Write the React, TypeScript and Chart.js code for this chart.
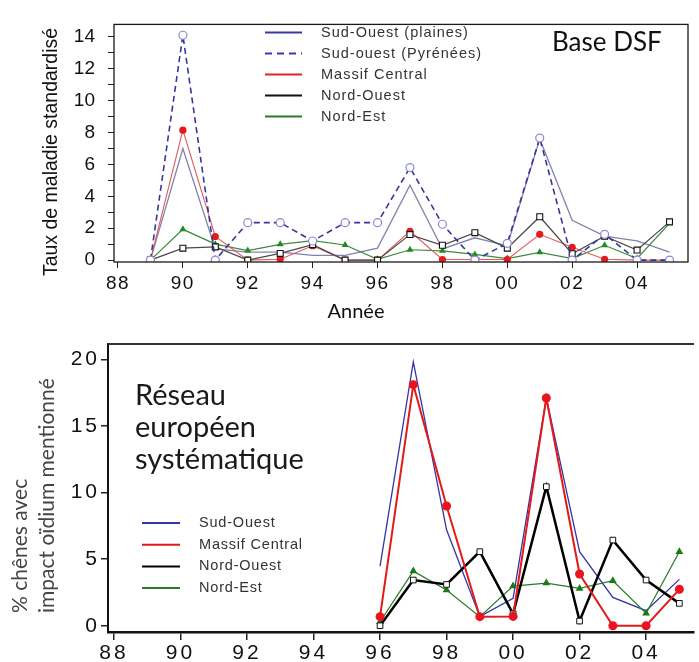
import React, { useEffect, useRef } from 'react';
import { Chart, registerables } from 'chart.js';

Chart.register(...registerables);

// ---------- Top panel: Base DSF ----------
const TOP_YEARS = [89, 90, 91, 92, 93, 94, 95, 96, 97, 98, 99, 100, 101, 102, 103, 104, 105];
const TOP_SO_PLAINES = [0, 7.0, 0.7, 0.5, 0.5, 0.3, 0.3, 0.75, 4.7, 0.7, 1.4, 0.9, 7.6, 2.5, 1.5, 1.2, 0.5];
const TOP_SO_PYRENEES = [0, 14.1, 0, 2.35, 2.35, 1.2, 2.35, 2.35, 5.8, 2.25, 0, 1.05, 7.65, 0, 1.62, 0, 0];
const TOP_MASSIF = [0, 8.15, 1.48, 0, 0.05, 0.9, 0, 0, 1.81, 0.04, 0.04, 0.04, 1.62, 0.8, 0.05, 0, 0];
const TOP_NORD_OUEST = [0, 0.75, 0.83, 0, 0.42, 0.97, 0, 0, 1.6, 0.93, 1.72, 0.75, 2.72, 0.4, 1.5, 0.63, 2.4];
const TOP_NORD_EST = [0, 1.93, 1.0, 0.6, 0.99, 1.22, 0.95, 0.05, 0.65, 0.58, 0.36, 0.1, 0.49, 0.1, 0.93, 0.1, 2.3];
const TOP_LABELS = ['Sud-Ouest (plaines)', 'Sud-ouest (Pyrénées)', 'Massif Central', 'Nord-Ouest', 'Nord-Est'];
const TOP_X_TICKS = [88, 90, 92, 94, 96, 98, 100, 102, 104];
const TOP_Y_TICKS = [0, 1, 2, 3, 4, 5, 6, 7, 8, 9, 10, 11, 12, 13, 14];
const TOP_Y_TITLE = 'Taux de maladie standardisé';
const TOP_X_TITLE = 'Année';
const TOP_NOTE = 'Base DSF';

// ---------- Bottom panel: Réseau européen systématique ----------
const BOT_YEARS = [96, 97, 98, 99, 100, 101, 102, 103, 104, 105];
const BOT_SUD_OUEST = [4.48, 19.8, 7.2, 0.68, 2.05, 17.1, 5.56, 2.13, 1.13, 3.48];
const BOT_MASSIF = [0.68, 18.1, 8.99, 0.68, 0.7, 17.1, 3.88, 0, 0, 2.73];
const BOT_NORD_OUEST = [0, 3.43, 3.1, 5.56, 0.9, 10.44, 0.35, 6.43, 3.43, 1.68];
const BOT_NORD_EST = [0.3, 4.1, 2.68, 0.68, 2.98, 3.2, 2.8, 3.38, 0.93, 5.56];
const BOT_LABELS = ['Sud-Ouest', 'Massif Central', 'Nord-Ouest', 'Nord-Est'];
const BOT_X_TICKS = [88, 90, 92, 94, 96, 98, 100, 102, 104];
const BOT_Y_TICKS = [0, 5, 10, 15, 20];
const BOT_Y_TITLE = ['% chênes avec', 'impact oïdium mentionné'];
const BOT_NOTE = ['Réseau', 'européen', 'systématique'];

const yearLabel = (v: number) => String(Math.round(v) % 100).padStart(2, '0');
const pts = (xs: number[], ys: number[]) => xs.map((x, i) => ({ x, y: ys[i] }));

function fixAxis(size: number, horizontal: boolean, spacing?: string) {
  return (scale: any) => {
    if (horizontal) scale.height = size;
    else scale.width = size;
    if (spacing && !scale.__spaced) {
      scale.__spaced = true;
      const orig = scale.drawLabels;
      scale.drawLabels = function (area: any) {
        const ctx = this.ctx;
        const prev = ctx.letterSpacing;
        ctx.letterSpacing = spacing;
        orig.call(this, area);
        ctx.letterSpacing = prev || '0px';
      };
    }
  };
}

function drawLegend(chart: any, x1: number, x2: number, xt: number, y0: number, dy: number, font: string, spacing: string) {
  const { ctx } = chart;
  ctx.save();
  chart.data.datasets.forEach((ds: any, i: number) => {
    const y = y0 + i * dy;
    ctx.beginPath();
    ctx.strokeStyle = ds.legendColor || ds.borderColor;
    ctx.lineWidth = 2;
    ctx.setLineDash(ds.borderDash && ds.borderDash.length ? [7, 5] : []);
    ctx.moveTo(x1, y);
    ctx.lineTo(x2, y);
    ctx.stroke();
    ctx.setLineDash([]);
    ctx.font = font;
    ctx.letterSpacing = spacing;
    ctx.fillStyle = '#333';
    ctx.textAlign = 'left';
    ctx.textBaseline = 'middle';
    ctx.fillText(ds.label, xt, y);
    ctx.letterSpacing = '0px';
  });
  ctx.restore();
}

const topDecor = {
  id: 'topDecor',
  afterDraw(chart: any) {
    const { ctx, chartArea: a } = chart;
    ctx.save();
    ctx.strokeStyle = '#1a1a1a';
    ctx.lineWidth = 1.3;
    ctx.strokeRect(a.left, a.top, a.right - a.left, a.bottom - a.top);

    ctx.save();
    ctx.translate(57, 152);
    ctx.rotate(-Math.PI / 2);
    ctx.font = '19.5px "Liberation Sans"';
    ctx.fillStyle = '#111';
    ctx.textAlign = 'center';
    ctx.textBaseline = 'alphabetic';
    ctx.fillText(TOP_Y_TITLE, 0, 0);
    ctx.restore();

    ctx.font = '20px Lato';
    ctx.fillStyle = '#111';
    ctx.textAlign = 'center';
    ctx.textBaseline = 'middle';
    ctx.fillText(TOP_X_TITLE, 356, 312);

    ctx.font = '26px Lato';
    ctx.textAlign = 'left';
    ctx.textBaseline = 'alphabetic';
    ctx.fillText(TOP_NOTE, 552, 51);
    ctx.restore();

    drawLegend(chart, 265, 302, 321, 32.5, 21, '14.5px "Liberation Sans"', '1px');
  },
};

const botDecor = {
  id: 'botDecor',
  afterDraw(chart: any) {
    const { ctx, chartArea: a } = chart;
    ctx.save();
    ctx.strokeStyle = '#333';
    ctx.lineWidth = 2;
    ctx.beginPath();
    ctx.moveTo(a.left, a.top);
    ctx.lineTo(a.right, a.top);
    ctx.stroke();

    ctx.save();
    ctx.translate(0, 283);
    ctx.rotate(-Math.PI / 2);
    ctx.font = '21px Lato';
    ctx.fillStyle = '#444';
    ctx.textAlign = 'left';
    ctx.textBaseline = 'alphabetic';
    ctx.fillText(BOT_Y_TITLE[0], 0, 27);
    ctx.fillText(BOT_Y_TITLE[1], 0, 53.5);
    ctx.restore();

    ctx.font = '29px Lato';
    ctx.fillStyle = '#1a1a1a';
    ctx.textAlign = 'left';
    ctx.textBaseline = 'alphabetic';
    BOT_NOTE.forEach((t, i) => ctx.fillText(t, 135, 75 + i * 32));
    ctx.restore();

    drawLegend(chart, 142, 180, 199, 193, 21.7, '14.5px "Liberation Sans"', '0.8px');
  },
};

function TopChart() {
  const ref = useRef<HTMLCanvasElement>(null);
  useEffect(() => {
    const chart = new Chart(ref.current as HTMLCanvasElement, {
      type: 'line',
      data: {
        datasets: [
          {
            label: TOP_LABELS[0], data: pts(TOP_YEARS, TOP_SO_PLAINES), order: 4,
            borderColor: '#8282ae', legendColor: '#3a3aa6', borderWidth: 1.3, pointRadius: 0,
          } as any,
          {
            label: TOP_LABELS[1], data: pts(TOP_YEARS, TOP_SO_PYRENEES), order: 0,
            borderColor: '#36369c', legendColor: '#3a3aa6', borderWidth: 1.6, borderDash: [6, 4],
            pointStyle: 'circle', pointRadius: 4, pointBackgroundColor: '#fff',
            pointBorderColor: '#8a8ad0', pointBorderWidth: 1.2,
          },
          {
            label: TOP_LABELS[2], data: pts(TOP_YEARS, TOP_MASSIF), order: 2,
            borderColor: '#e05a5a', legendColor: '#e02424', borderWidth: 1.1,
            pointStyle: 'circle', pointRadius: 3.6, pointBackgroundColor: '#e51b1b',
            pointBorderColor: '#e51b1b', pointBorderWidth: 0,
          },
          {
            label: TOP_LABELS[3], data: pts(TOP_YEARS, TOP_NORD_OUEST), order: 1,
            borderColor: '#4a4a4a', legendColor: '#111', borderWidth: 1.2,
            pointStyle: 'rect', pointRadius: 4.2, pointBackgroundColor: '#fff',
            pointBorderColor: '#111', pointBorderWidth: 1.1,
          },
          {
            label: TOP_LABELS[4], data: pts(TOP_YEARS, TOP_NORD_EST), order: 3,
            borderColor: '#3c8a3c', legendColor: '#2a7a2a', borderWidth: 1.2,
            pointStyle: 'triangle', pointRadius: 4, pointBackgroundColor: '#1e8c1e',
            pointBorderColor: '#1e8c1e', pointBorderWidth: 0,
          },
        ],
      },
      options: {
        responsive: false,
        animation: false,
        events: [],
        layout: { padding: { top: 10, right: 11, left: 0, bottom: 0 } },
        plugins: { legend: { display: false }, tooltip: { enabled: false } },
        scales: {
          x: {
            type: 'linear', min: 87.877, max: 105.57,
            afterBuildTicks: (s: any) => { s.ticks = TOP_X_TICKS.map((v) => ({ value: v })); },
            afterFit: fixAxis(68, true, '1.5px'),
            grid: { drawOnChartArea: false, drawTicks: true, tickLength: 6, color: '#222', lineWidth: 1 },
            border: { display: false },
            ticks: {
              autoSkip: false, maxRotation: 0, padding: 4, color: '#111',
              font: { family: 'Liberation Sans', size: 19 },
              callback: (v: any) => yearLabel(Number(v)),
            },
          },
          y: {
            type: 'linear', min: -0.118, max: 14.78,
            afterBuildTicks: (s: any) => { s.ticks = TOP_Y_TICKS.map((v) => ({ value: v })); },
            afterFit: fixAxis(114, false),
            grid: { drawOnChartArea: false, drawTicks: true, tickLength: 6, color: '#222', lineWidth: 1 },
            border: { display: false },
            ticks: {
              autoSkip: false, padding: 13, color: '#111',
              font: { family: 'Liberation Sans', size: 19 },
              callback: (v: any) => (Number(v) % 2 === 0 ? String(v) : ''),
            },
          },
        },
      },
      plugins: [topDecor],
    } as any);
    return () => chart.destroy();
  }, []);
  return <canvas ref={ref} width={699} height={330} style={{ display: 'block', position: 'absolute', left: 0, top: 0 }} />;
}

function BottomChart() {
  const ref = useRef<HTMLCanvasElement>(null);
  useEffect(() => {
    const chart = new Chart(ref.current as HTMLCanvasElement, {
      type: 'line',
      data: {
        datasets: [
          {
            label: BOT_LABELS[0], data: pts(BOT_YEARS, BOT_SUD_OUEST), order: 3,
            borderColor: '#3434a8', borderWidth: 1.3, pointRadius: 0,
          },
          {
            label: BOT_LABELS[1], data: pts(BOT_YEARS, BOT_MASSIF), order: 0,
            borderColor: '#e21a1a', borderWidth: 2, pointStyle: 'circle', pointRadius: 4.5,
            pointBackgroundColor: '#ea1320', pointBorderColor: '#ea1320', pointBorderWidth: 0,
          },
          {
            label: BOT_LABELS[2], data: pts(BOT_YEARS, BOT_NORD_OUEST), order: 1,
            borderColor: '#000', borderWidth: 2.5, pointStyle: 'rect', pointRadius: 4,
            pointBackgroundColor: '#fff', pointBorderColor: '#111', pointBorderWidth: 1,
          },
          {
            label: BOT_LABELS[3], data: pts(BOT_YEARS, BOT_NORD_EST), order: 2,
            borderColor: '#2a7a2a', borderWidth: 1.2, pointStyle: 'triangle', pointRadius: 4.5,
            pointBackgroundColor: '#1a7a1a', pointBorderColor: '#1a7a1a', pointBorderWidth: 0,
          },
        ],
      },
      options: {
        responsive: false,
        animation: false,
        events: [],
        layout: { padding: { top: 14, right: 0, left: 0, bottom: 0 } },
        plugins: { legend: { display: false }, tooltip: { enabled: false } },
        scales: {
          x: {
            type: 'linear', min: 87.82, max: 105.44,
            afterBuildTicks: (s: any) => { s.ticks = BOT_X_TICKS.map((v) => ({ value: v })); },
            afterFit: fixAxis(30, true, '3px'),
            grid: { drawOnChartArea: false, drawTicks: true, tickLength: 8, color: '#222', lineWidth: 1.5 },
            border: { display: true, color: '#111', width: 2.5 },
            ticks: {
              autoSkip: false, maxRotation: 0, padding: 1, color: '#111',
              font: { family: 'Liberation Sans', size: 21 },
              callback: (v: any) => yearLabel(Number(v)),
            },
          },
          y: {
            type: 'linear', min: -0.47, max: 21.15,
            afterBuildTicks: (s: any) => { s.ticks = BOT_Y_TICKS.map((v) => ({ value: v })); },
            afterFit: fixAxis(108, false, '3px'),
            grid: { drawOnChartArea: false, drawTicks: true, tickLength: 7, color: '#222', lineWidth: 1.5 },
            border: { display: true, color: '#111', width: 2 },
            ticks: {
              autoSkip: false, padding: 1, color: '#111',
              font: { family: 'Liberation Sans', size: 21 },
              callback: (v: any) => String(v),
            },
          },
        },
      },
      plugins: [botDecor],
    } as any);
    return () => chart.destroy();
  }, []);
  return <canvas ref={ref} width={699} height={332} style={{ display: 'block', position: 'absolute', left: 0, top: 330 }} />;
}

export default function App() {
  return (
    <div style={{ position: 'absolute', left: 0, top: 0, width: 699, height: 662, background: '#fff', overflow: 'hidden' }}>
      <TopChart />
      <BottomChart />
    </div>
  );
}
